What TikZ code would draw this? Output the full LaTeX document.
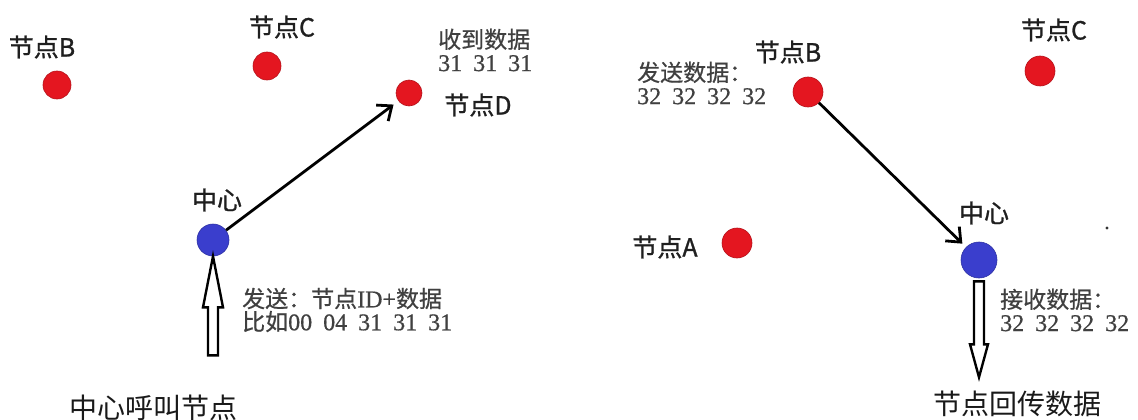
\documentclass[tikz,border=0pt]{standalone}
\usepackage{fontspec}
\setmainfont[FakeBold=0.6]{Liberation Serif}
\newfontfamily\cjk[FakeBold=1]{Noto Sans CJK SC}
\newfontfamily\cjkdata[FakeBold=0.6]{Noto Sans CJK SC}
\newfontfamily\cjktitle{Noto Sans CJK SC}
\usetikzlibrary{arrows.meta}
\definecolor{nodered}{RGB}{228,22,32}
\definecolor{hubblue}{RGB}{58,62,205}
\definecolor{datagray}{RGB}{64,64,64}
\newcommand{\gap}{\hspace{11pt}}
\newcommand{\zh}[1]{{\cjkdata\fontsize{23}{23}\selectfont #1}}

\begin{document}
\begin{tikzpicture}[x=1pt, y=-1pt,
    dot/.style={circle, fill=nodered, draw=nodered!80!black, line width=0.6pt,
        inner sep=0pt, minimum size=#1},
    dot/.default=28pt,
    hub/.style={circle, fill=hubblue, draw=hubblue!80!black, line width=0.6pt,
        inner sep=0pt, minimum size=#1},
    lbl/.style={inner sep=0pt, text=black!88, font=\cjk\fontsize{25}{27}\selectfont},
    data/.style={inner sep=0pt, anchor=west, align=left, text=datagray,
        font=\fontsize{24}{23}\selectfont},
    title/.style={inner sep=0pt, text=black!90, font=\cjktitle\fontsize{28}{30}\selectfont},
    edge/.style={line width=2.8pt, -{Straight Barb[length=12pt,width=20pt,line width=2.8pt]}},
    hollow/.style={draw=black, fill=white, line width=2.4pt, line join=miter}
]
    \useasboundingbox[fill=white] (0,0) rectangle (1138,420);

    % left: the centre calls node D
    \node[dot] (bL) at (57,85) {};
    \node[dot] (cL) at (267,66) {};
    \node[dot=26pt] (d) at (409,93) {};
    \node[hub=32pt] (hubL) at (213,240) {};
    \node[lbl] (bLlbl) at (42,47) {节点B};
    \node[lbl] (cLlbl) at (282,27) {节点C};
    \node[lbl] (dlbl) at (478,105) {节点D};
    \node[lbl] (hubLlbl) at (217,200) {中心};
    \node[data] (recv) at (438,50) {\zh{收到数据}\\31\gap 31\gap 31};
    \node[data] (send) at (242,310) {\zh{发送：节点}ID+\zh{数据}\\\zh{比如}00\gap 04\gap 31\gap 31\gap 31};
    \draw[hollow] (hubL.south) -- ++(10,51) -- ++(-5,0) -- ++(0,48) -- ++(-10,0)
        -- ++(0,-48) -- ++(-5,0) -- cycle;
    \node[title] (callL) at (153,408) {中心呼叫节点};
    \draw[edge, shorten >=6pt] (hubL) -- (d);

    % right: node B sends back to the centre
    \node[dot=30pt] (bR) at (808,92) {};
    \node[dot=30pt] (cR) at (1040,71) {};
    \node[dot=30pt] (a) at (737,243) {};
    \node[hub=36pt] (hubR) at (979,260) {};
    \node[lbl] (bRlbl) at (788,52) {节点B};
    \node[lbl] (cRlbl) at (1054,30) {节点C};
    \node[lbl] (albl) at (665,247) {节点A};
    \node[lbl] (hubRlbl) at (984,213) {中心};
    \node[data] (sendB) at (637,83) {\zh{发送数据：}\\32\gap 32\gap 32\gap 32};
    \node[data] (recvR) at (1000,310) {\zh{接收数据：}\\32\gap 32\gap 32\gap 32};
    \draw[hollow] ([yshift=-3pt]hubR.south) ++(5,0) -- ++(0,63) -- ++(4,0) -- ++(-9,33)
        -- ++(-9,-33) -- ++(4,0) -- ++(0,-63) -- cycle;
    \node[title] (backR) at (1017,404) {节点回传数据};
    \draw[edge, shorten >=5pt] (bR) -- (hubR);
    \fill[black!80] (1107,228) circle (1.6pt);
\end{tikzpicture}
\end{document}
